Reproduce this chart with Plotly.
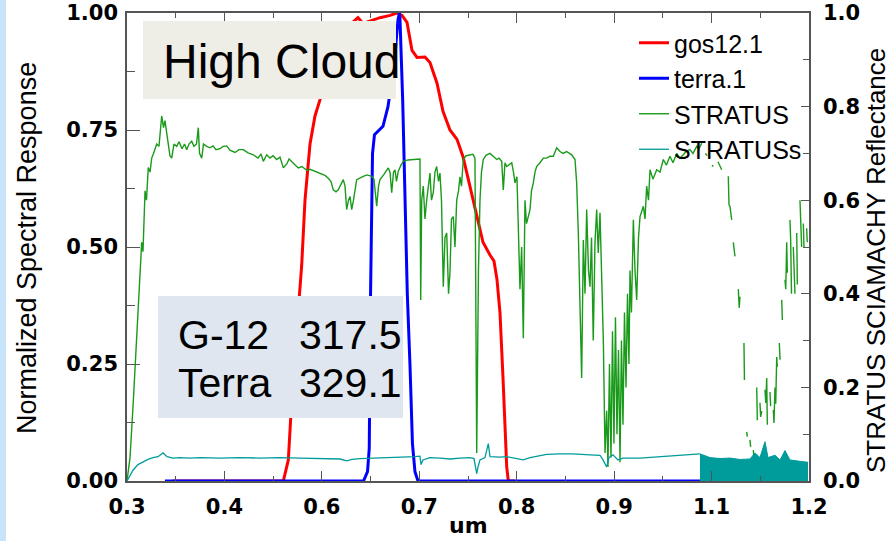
import plotly.graph_objects as go

# ---------------- data ----------------
x_tick_vals = [0.3 + k * 0.9 / 7 for k in range(8)]
x_tick_text = ["0.3", "0.4", "0.6", "0.7", "0.8", "0.9", "1.1", "1.2"]
x_minor_vals = [0.3 + (k + 0.5) * 0.9 / 7 for k in range(7)]
yl_tick_vals = [0, 0.25, 0.5, 0.75, 1.0]
yl_tick_text = ["0.00", "0.25", "0.50", "0.75", "1.00"]
yl_minor_vals = [0.125, 0.375, 0.625, 0.875]
yr_tick_vals = [0, 0.2, 0.4, 0.6, 0.8, 1.0]
yr_tick_text = ["0.0", "0.2", "0.4", "0.6", "0.8", "1.0"]
yr_minor_vals = [0.1, 0.3, 0.5, 0.7, 0.9]

gos_wl = [0.36, 0.4953, 0.5063, 0.5129, 0.5173, 0.5239, 0.5305, 0.5349, 0.5415, 0.5481, 0.5547,
          0.5652, 0.5811, 0.5943, 0.6048, 0.6114, 0.6207, 0.6339, 0.6471, 0.6563, 0.6629, 0.6695,
          0.6761, 0.6827, 0.6932, 0.6998, 0.7091, 0.7170, 0.7262, 0.7355, 0.7434, 0.7526, 0.7619,
          0.7698, 0.7790, 0.7843, 0.7883, 0.7922, 0.7962, 0.7988, 0.8011, 0.8032, 0.8120]
gos_resp = [0, 0, 0, 0.045, 0.17, 0.32, 0.46, 0.60, 0.72, 0.78, 0.815,
            0.88, 0.94, 0.975, 0.99, 0.978, 0.983, 0.99, 0.995, 1.0, 0.995, 0.98,
            0.92, 0.905, 0.906, 0.894, 0.85, 0.79, 0.75, 0.73, 0.693, 0.63, 0.565,
            0.51, 0.483, 0.47, 0.43, 0.36, 0.22, 0.12, 0.03, 0, 0]

terra_wl = [0.3501, 0.6121, 0.6174, 0.6197, 0.6214, 0.6240, 0.6266, 0.6378, 0.6444, 0.6489,
            0.6541, 0.6576, 0.6594, 0.6602, 0.6638, 0.6668, 0.6699, 0.6734, 0.6767, 0.6800,
            0.6840, 1.0997]
terra_resp = [0, 0, 0.02, 0.07, 0.40, 0.70, 0.74, 0.758, 0.80, 0.85,
              0.92, 0.985, 1.0, 0.99, 0.815, 0.60, 0.40, 0.25, 0.08, 0.02,
              0, 0]

stratus_wl = [
    0.3000, 0.3040, 0.3083, 0.3128, 0.3172, 0.3194, 0.3211, 0.3238, 0.3257, 0.3281, 0.3304,
    0.3326, 0.3350, 0.3392, 0.3422, 0.3458, 0.3482, 0.3501, 0.3545, 0.3567, 0.3590, 0.3620,
    0.3656, 0.3686, 0.3726, 0.3759, 0.3788, 0.3818, 0.3854, 0.3884, 0.3917, 0.3941, 0.3957,
    0.3986, 0.4009, 0.4052, 0.4095, 0.4135, 0.4174, 0.4227, 0.4267, 0.4316, 0.4359, 0.4425,
    0.4478, 0.4535, 0.4597, 0.4667, 0.4729, 0.4768, 0.4799, 0.4844, 0.4887, 0.4927, 0.4975,
    0.5019, 0.5063, 0.5111, 0.5138, 0.5173, 0.5217, 0.5260, 0.5309, 0.5371, 0.5415, 0.5481,
    0.5547, 0.5613, 0.5656, 0.5692, 0.5722, 0.5758, 0.5788, 0.5824, 0.5854, 0.5877, 0.5899,
    0.5923, 0.5943, 0.5965, 0.5989, 0.6031, 0.6075, 0.6118, 0.6167, 0.6229, 0.6259, 0.6273,
    0.6295, 0.6319, 0.6339, 0.6391, 0.6448, 0.6471, 0.6493, 0.6517, 0.6537, 0.6556, 0.6580,
    0.6616, 0.6646, 0.6708, 0.6787, 0.6866, 0.6876, 0.6889, 0.6910, 0.6932, 0.6955, 0.6979,
    0.6998, 0.7018, 0.7042, 0.7064, 0.7087, 0.7111, 0.7130, 0.7150, 0.7174, 0.7196, 0.7219,
    0.7243, 0.7262, 0.7282, 0.7306, 0.7328, 0.7351, 0.7375, 0.7394, 0.7414, 0.7438, 0.7474,
    0.7526, 0.7566, 0.7592, 0.7608, 0.7615, 0.7625, 0.7638, 0.7658, 0.7678, 0.7702, 0.7737,
    0.7790, 0.7830, 0.7879, 0.7909, 0.7945, 0.7966, 0.7988, 0.8011, 0.8041, 0.8077, 0.8100,
    0.8120, 0.8146, 0.8164, 0.8186, 0.8208, 0.8230, 0.8252, 0.8272, 0.8296, 0.8318, 0.8338,
    0.8362, 0.8384, 0.8406, 0.8450, 0.8494, 0.8538, 0.8582, 0.8626, 0.8670, 0.8714, 0.8754,
    0.8802, 0.8833, 0.8868, 0.8912, 0.8934, 0.8956, 0.8978, 0.9000, 0.9022, 0.9044, 0.9066,
    0.9090, 0.9110, 0.9130, 0.9153, 0.9176, 0.9198, 0.9219, 0.9242, 0.9264, 0.9286, 0.9308,
    0.9330, 0.9347, 0.9367, 0.9387, 0.9407, 0.9426, 0.9446, 0.9466, 0.9486, 0.9506, 0.9525,
    0.9545, 0.9565, 0.9585, 0.9605, 0.9624, 0.9638, 0.9657, 0.9682, 0.9704, 0.9726, 0.9750,
    0.9770, 0.9814, 0.9836, 0.9858, 0.9882, 0.9902, 0.9941, 0.9990, 1.0034, 1.0077, 1.0119,
    1.0165, 1.0205, 1.0254, 1.0297, 1.0341, 1.0383, 1.0429, 1.0469, 1.0518, 1.0548, 1.0584,
    1.0607, 1.0634, 1.0654, 1.0673, 1.0720, 1.0737, 1.0759, 1.0799, 1.0819, 1.0848, 1.0865,
    1.0892, 1.0918, 1.0935, 1.0944, 1.0957, 1.0980, 1.0990, 1.1001, 1.1023, 1.1034, 1.1046,
    1.1056, 1.1067, 1.1079, 1.1089, 1.1102, 1.1125, 1.1133, 1.1142, 1.1148, 1.1159, 1.1178,
    1.1186, 1.1195, 1.1221, 1.1230, 1.1241, 1.1265, 1.1274, 1.1287, 1.1310, 1.1318, 1.1329,
    1.1353, 1.1362, 1.1376, 1.1386, 1.1419, 1.1430, 1.1442, 1.1450, 1.1461, 1.1485, 1.1494,
    1.1505, 1.1529, 1.1538, 1.1551, 1.1561, 1.1574, 1.1582, 1.1594, 1.1608, 1.1618, 1.1631,
    1.1640, 1.1648, 1.1660, 1.1683, 1.1693, 1.1706, 1.1714, 1.1726, 1.1749, 1.1758, 1.1769,
    1.1780, 1.1793, 1.1802, 1.1815, 1.1826, 1.1838, 1.1846, 1.1857, 1.1881, 1.1890, 1.1903,
    1.1914, 1.1925, 1.1934, 1.1947, 1.1969, 1.1977]
stratus_refl = [
    0, 0.05, 0.17, 0.31, 0.42, 0.51, 0.49, 0.62, 0.60, 0.67, 0.66,
    0.69, 0.70, 0.72, 0.715, 0.78, 0.755, 0.77, 0.72, 0.695, 0.69, 0.72,
    0.715, 0.725, 0.71, 0.72, 0.708, 0.72, 0.726, 0.715, 0.72, 0.755, 0.70,
    0.69, 0.72, 0.715, 0.712, 0.716, 0.708, 0.71, 0.715, 0.716, 0.707, 0.702,
    0.708, 0.708, 0.701, 0.697, 0.690, 0.699, 0.683, 0.697, 0.690, 0.695, 0.687,
    0.692, 0.669, 0.678, 0.688, 0.683, 0.675, 0.669, 0.672, 0.664, 0.666, 0.662,
    0.658, 0.653, 0.647, 0.64, 0.622, 0.618, 0.622, 0.635, 0.644, 0.63, 0.58,
    0.60, 0.608, 0.58, 0.60, 0.644, 0.648, 0.651, 0.654, 0.651, 0.645, 0.622,
    0.587, 0.63, 0.644, 0.655, 0.669, 0.66, 0.616, 0.66, 0.665, 0.64, 0.662,
    0.675, 0.683, 0.686, 0.687, 0.688, 0.387, 0.60, 0.63, 0.56, 0.60, 0.64,
    0.658, 0.60, 0.616, 0.66, 0.672, 0.64, 0.658, 0.60, 0.415, 0.52, 0.53,
    0.40, 0.445, 0.56, 0.565, 0.50, 0.60, 0.62, 0.65, 0.63, 0.687, 0.695,
    0.697, 0.698, 0.69, 0.30, 0.06, 0.23, 0.45, 0.60, 0.66, 0.687, 0.696,
    0.70, 0.695, 0.687, 0.69, 0.683, 0.622, 0.68, 0.672, 0.675, 0.68, 0.66,
    0.637, 0.65, 0.53, 0.41, 0.50, 0.305, 0.60, 0.55, 0.565, 0.58, 0.62,
    0.637, 0.66, 0.672, 0.68, 0.69, 0.69, 0.694, 0.694, 0.712, 0.704, 0.70,
    0.704, 0.70, 0.697, 0.687, 0.637, 0.53, 0.40, 0.22, 0.515, 0.40, 0.58,
    0.45, 0.415, 0.52, 0.30, 0.51, 0.58, 0.487, 0.573, 0.458, 0.30, 0.06,
    0.15, 0.03, 0.25, 0.05, 0.32, 0.08, 0.35, 0.10, 0.28, 0.04, 0.30,
    0.12, 0.36, 0.20, 0.40, 0.25, 0.45, 0.36, 0.558, 0.45, 0.387, 0.52,
    0.565, 0.587, 0.56, 0.63, 0.60, 0.665, 0.645, 0.665, 0.66, 0.687, 0.675,
    0.694, 0.68, 0.70, 0.69, 0.697, 0.705, 0.708, 0.70, 0.715, 0.71, 0.722,
    None, 0.70, 0.695, None, 0.675, 0.672, None, 0.682, 0.675, 0.665, None,
    0.63, None, 0.651, 0.59, 0.587, 0.558, None, 0.51, 0.48, None, 0.45,
    None, 0.41, 0.37, 0.394, None, 0.34, None, 0.295, 0.216, None, 0.105,
    0.095, None, 0.088, 0.073, None, 0.066, 0.051, None, 0.20, 0.13, None,
    0.167, 0.137, 0.15, None, 0.195, 0.167, 0.22, 0.12, None, 0.19, 0.16,
    None, 0.152, 0.124, 0.20, 0.165, 0.265, 0.244, None, 0.295, 0.259, None,
    0.387, 0.344, None, 0.43, 0.41, 0.51, 0.445, None, 0.558, 0.515, 0.40,
    None, 0.50, 0.46, 0.40, None, 0.53, 0.42, None, 0.60, 0.558, 0.50,
    None, 0.55, 0.50, None, 0.54, 0.51]

stratus_s_wl = [0.3000, 0.3040, 0.3079, 0.3145, 0.3211, 0.3277, 0.3343, 0.3409, 0.3475, 0.3501,
                0.3528, 0.3607, 0.3699, 0.3831, 0.3963, 0.4227, 0.4491, 0.4755, 0.5019, 0.5283,
                0.5547, 0.5811, 0.5903, 0.5969, 0.6075, 0.6339, 0.6537, 0.6668, 0.6800, 0.6866,
                0.6880, 0.6906, 0.6998, 0.7130, 0.7262, 0.7394, 0.7526, 0.7579, 0.7615, 0.7632,
                0.7658, 0.7724, 0.7768, 0.7790, 0.7922, 0.8011, 0.8120, 0.8226, 0.8318, 0.8538,
                0.8714, 0.8886, 0.9110, 0.9242, 0.9282, 0.9330, 0.9360, 0.9413, 0.9479, 0.9545,
                0.9770, 1.0034, 1.0205, 1.0429, 1.0561]
stratus_s_refl = [0, 0.012, 0.023, 0.035, 0.041, 0.046, 0.05, 0.052, 0.06, 0.056,
                  0.052, 0.049, 0.05, 0.049, 0.05, 0.049, 0.05, 0.049, 0.05, 0.049,
                  0.048, 0.047, 0.043, 0.046, 0.048, 0.049, 0.05, 0.051, 0.052, 0.053,
                  0.035, 0.045, 0.05, 0.049, 0.047, 0.049, 0.05, 0.048, 0.016, 0.03,
                  0.045, 0.05, 0.08, 0.052, 0.051, 0.052, 0.048, 0.045, 0.05, 0.057,
                  0.058, 0.058, 0.056, 0.055, 0.045, 0.03, 0.05, 0.056, 0.045, 0.049,
                  0.049, 0.052, 0.054, 0.056, 0.058]
stratus_s_tail_wl = [1.0561, 1.0693, 1.0825, 1.0957, 1.1089, 1.1221, 1.1287, 1.1353, 1.1419,
                     1.1459, 1.1551, 1.1618, 1.1683, 1.1749, 1.1881, 1.1987]
stratus_s_tail_refl = [0.058, 0.05, 0.048, 0.049, 0.046, 0.047, 0.06, 0.05, 0.084,
                       0.05, 0.055, 0.045, 0.065, 0.045, 0.042, 0.04]

# ---------------- figure ----------------
RED, BLUE, GREEN, TEAL = "#ff0000", "#0000ff", "#1a9a1a", "#009b9b"
TXT = "Liberation Sans, Arial, sans-serif"
TICKF = dict(family="DejaVu Sans, sans-serif", size=21, color="black", weight="bold")
AX = "#555555"

fig = go.Figure()
fig.add_trace(go.Scatter(x=stratus_wl, y=stratus_refl, name="STRATUS", yaxis="y2",
                         mode="lines", line=dict(color=GREEN, width=1.4),
                         connectgaps=False, legendrank=3))
fig.add_trace(go.Scatter(x=stratus_s_wl, y=stratus_s_refl, name="STRATUSs", yaxis="y2",
                         mode="lines", line=dict(color=TEAL, width=1.3), legendrank=4,
                         legendgroup="s"))
fig.add_trace(go.Scatter(x=stratus_s_tail_wl, y=stratus_s_tail_refl, name="STRATUSs",
                         yaxis="y2", mode="lines", line=dict(color=TEAL, width=1),
                         fill="tozeroy", fillcolor=TEAL, showlegend=False, legendgroup="s"))
fig.add_trace(go.Scatter(x=gos_wl, y=gos_resp, name="gos12.1", mode="lines",
                         line=dict(color=RED, width=3), legendrank=1))
fig.add_trace(go.Scatter(x=terra_wl, y=terra_resp, name="terra.1", mode="lines",
                         line=dict(color=BLUE, width=3), legendrank=2))


def px_x(p):
    return (p - 127) / 682.0


def px_y(p):
    return (481 - p) / 468.0


shapes = [
    dict(type="rect", xref="paper", yref="paper", x0=px_x(0), x1=px_x(6), y0=px_y(541), y1=px_y(0),
         fillcolor="#c8e4fa", line=dict(width=0), layer="below"),
    dict(type="rect", xref="paper", yref="paper", x0=px_x(143), x1=px_x(396), y0=px_y(99), y1=px_y(21),
         fillcolor="#eeede6", line=dict(width=0), layer="above"),
    dict(type="rect", xref="paper", yref="paper", x0=px_x(158), x1=px_x(403), y0=px_y(418), y1=px_y(296),
         fillcolor="#dfe6f0", line=dict(width=0), layer="above"),
]

annotations = [
    dict(text="High Cloud", xref="paper", yref="paper", x=px_x(161), y=px_y(62), xanchor="left",
         yanchor="middle", showarrow=False, font=dict(family=TXT, size=48, color="black")),
    dict(text="G-12", xref="paper", yref="paper", x=px_x(176), y=px_y(335), xanchor="left",
         yanchor="middle", showarrow=False, font=dict(family=TXT, size=41, color="black")),
    dict(text="317.5", xref="paper", yref="paper", x=px_x(404), y=px_y(335), xanchor="right",
         yanchor="middle", showarrow=False, font=dict(family=TXT, size=41, color="black")),
    dict(text="Terra", xref="paper", yref="paper", x=px_x(176), y=px_y(383), xanchor="left",
         yanchor="middle", showarrow=False, font=dict(family=TXT, size=41, color="black")),
    dict(text="329.1", xref="paper", yref="paper", x=px_x(404), y=px_y(383), xanchor="right",
         yanchor="middle", showarrow=False, font=dict(family=TXT, size=41, color="black")),
    dict(text="Normalized Spectral Response", xref="paper", yref="paper", x=px_x(27), y=px_y(248),
         textangle=-90, xanchor="center", yanchor="middle", showarrow=False,
         font=dict(family=TXT, size=27, color="black")),
    dict(text="STRATUS SCIAMACHY Reflectance", xref="paper", yref="paper", x=px_x(876), y=px_y(260),
         textangle=-90, xanchor="center", yanchor="middle", showarrow=False,
         font=dict(family=TXT, size=26, color="black")),
    dict(text="um", xref="paper", yref="paper", x=px_x(468), y=px_y(539), xanchor="center",
         yanchor="bottom", showarrow=False, borderpad=0,
         font=dict(family="DejaVu Sans, sans-serif", size=22, color="black", weight="bold")),
]

fig.update_layout(
    width=892, height=541,
    margin=dict(l=127, r=83, t=13, b=60, autoexpand=False),
    paper_bgcolor="white", plot_bgcolor="white",
    showlegend=True,
    legend=dict(x=px_x(634), y=px_y(20), xanchor="left", yanchor="top",
                bgcolor="rgba(0,0,0,0)", font=dict(family=TXT, size=25, color="black"),
                itemwidth=30, traceorder="normal"),
    xaxis=dict(range=[0.3, 1.2], tickmode="array", tickvals=x_tick_vals, ticktext=x_tick_text,
               ticks="inside", ticklen=10, tickwidth=1.3, tickcolor=AX, showline=True,
               linecolor=AX, linewidth=1.5, mirror="ticks", showgrid=False, zeroline=False,
               tickfont=TICKF, ticklabelstandoff=6,
               minor=dict(tickmode="array", tickvals=x_minor_vals, ticks="inside", ticklen=5,
                          tickwidth=1.3, tickcolor=AX, showgrid=False)),
    yaxis=dict(range=[0, 1], tickmode="array", tickvals=yl_tick_vals, ticktext=yl_tick_text,
               ticks="inside", ticklen=13, tickwidth=1.3, tickcolor=AX, showline=True,
               linecolor=AX, linewidth=1.5, showgrid=False, zeroline=False, tickfont=TICKF,
               ticklabelstandoff=3,
               minor=dict(tickmode="array", tickvals=yl_minor_vals, ticks="inside", ticklen=8,
                          tickwidth=1.3, tickcolor=AX, showgrid=False)),
    yaxis2=dict(range=[0, 1], overlaying="y", side="right", tickmode="array",
                tickvals=yr_tick_vals, ticktext=yr_tick_text, ticks="inside", ticklen=8,
                tickwidth=1.3, tickcolor=AX, showline=True, linecolor=AX, linewidth=1.5,
                showgrid=False, zeroline=False, tickfont=TICKF, ticklabelstandoff=8,
                minor=dict(tickmode="array", tickvals=yr_minor_vals, ticks="inside", ticklen=6,
                           tickwidth=1.3, tickcolor=AX, showgrid=False)),
    shapes=shapes,
    annotations=annotations,
)

fig.write_html("out.html", config={"displayModeBar": False},
               post_script="document.body.style.margin='0px';document.body.style.padding='0px';")
